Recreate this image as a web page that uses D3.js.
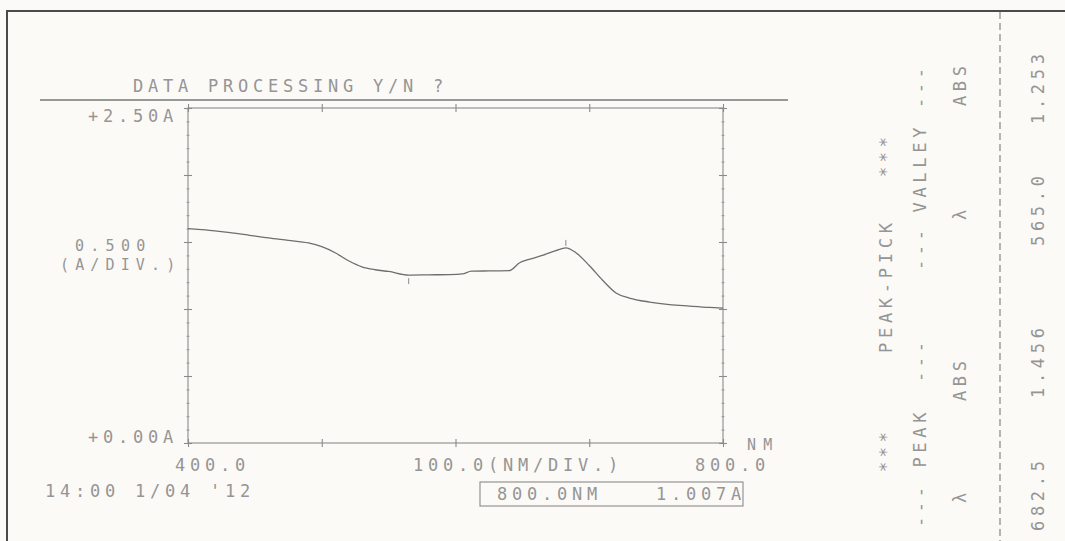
<!DOCTYPE html>
<html>
<head>
<meta charset="utf-8">
<script src="https://cdn.jsdelivr.net/npm/d3@7"></script>
<style>
  html, body { margin: 0; padding: 0; background: #fcfaf6; }
  svg { display: block; }
  .prn { font-family: "DejaVu Sans Mono", "Liberation Mono", monospace; font-size: 17px; fill: #959595; }
  .small { font-size: 15px; }
</style>
</head>
<body>
<svg id="chart" width="1065" height="541"></svg>
<script>
// Spectrum scan: wavelength (nm) and absorbance (A)
const wavelength = [400, 410, 420, 430, 445, 460, 475, 490, 500, 510, 520, 530, 540, 550, 565,
  580, 595, 605, 612, 625, 640, 648, 655, 665, 675, 682.5, 690, 700, 710, 720, 730, 745, 760, 775, 790, 800];
const absorbance = [1.600, 1.592, 1.583, 1.572, 1.552, 1.530, 1.512, 1.493, 1.465, 1.420, 1.360, 1.315, 1.293, 1.280, 1.253,
  1.255, 1.257, 1.262, 1.282, 1.284, 1.286, 1.345, 1.370, 1.400, 1.435, 1.456, 1.420, 1.325, 1.215, 1.120, 1.082, 1.052, 1.033, 1.022, 1.012, 1.007];

// Axis ranges and division ticks
const xDomain = [400, 800];
const yDomain = [0, 2.5];
const xTicks = [400, 500, 600, 700, 800];
const yTicks = [0, 0.5, 1.0, 1.5, 2.0, 2.5];
const yMinorTicks = d3.range(0, 2.5001, 0.1);

// Peak-pick results
const peakWl = 682.5, peakAbs = 1.456;
const valleyWl = 565.0, valleyAbs = 1.253;
const cursorWl = 800.0, cursorAbs = 1.007;

const svg = d3.select("#chart");
const ink = "#8a8a8a";
const PITCH = 15, GLYPH = 10.2;   // printer character pitch and glyph advance

const x = d3.scaleLinear().domain(xDomain).range([188, 723]);
const y = d3.scaleLinear().domain(yDomain).range([443, 108]);

// paper edge
svg.append("line").attr("x1", 7).attr("x2", 1065).attr("y1", 11).attr("y2", 11).attr("stroke", "#4a4a4a").attr("stroke-width", 2);
svg.append("line").attr("x1", 7).attr("x2", 7).attr("y1", 10).attr("y2", 541).attr("stroke", "#4a4a4a").attr("stroke-width", 2);

// header rule
svg.append("line").attr("x1", 40).attr("x2", 788).attr("y1", 100).attr("y2", 100).attr("stroke", "#777").attr("stroke-width", 1.3);

// plot frame
const frame = svg.append("g").attr("stroke", ink).attr("stroke-width", 1.1).attr("fill", "none");
frame.append("rect").attr("x", x(400)).attr("y", y(2.5)).attr("width", x(800) - x(400)).attr("height", y(0) - y(2.5));

// division ticks via axes
const axisStyle = g => {
  g.select(".domain").remove();
  g.selectAll("text").remove();
  g.selectAll("line").attr("stroke", ink).attr("stroke-width", 1.1);
};
svg.append("g").attr("transform", `translate(0,${y(0) + 4})`).call(d3.axisTop(x).tickValues(xTicks).tickSize(8)).call(axisStyle);
svg.append("g").attr("transform", `translate(0,${y(2.5) + 4})`).call(d3.axisTop(x).tickValues(xTicks).tickSize(8)).call(axisStyle);
svg.append("g").attr("transform", `translate(${x(400) + 4},0)`).call(d3.axisLeft(y).tickValues(yTicks).tickSize(8)).call(axisStyle);
svg.append("g").attr("transform", `translate(${x(800) + 4},0)`).call(d3.axisLeft(y).tickValues(yTicks).tickSize(8)).call(axisStyle);
// fine graduations along the absorbance edges
svg.append("g").attr("transform", `translate(${x(400) + 1.5},0)`).call(d3.axisLeft(y).tickValues(yMinorTicks).tickSize(3)).call(axisStyle)
  .selectAll("line").attr("stroke-width", 0.8);
svg.append("g").attr("transform", `translate(${x(800) + 1.5},0)`).call(d3.axisLeft(y).tickValues(yMinorTicks).tickSize(3)).call(axisStyle)
  .selectAll("line").attr("stroke-width", 0.8);

// spectrum trace
const pts = wavelength.map((w, i) => [w, absorbance[i]]);
svg.append("path").datum(pts)
  .attr("fill", "none").attr("stroke", "#6e6e6e").attr("stroke-width", 1.3)
  .attr("d", d3.line().x(d => x(d[0])).y(d => y(d[1])).curve(d3.curveMonotoneX));

// peak / valley markers
svg.append("line").attr("x1", x(peakWl)).attr("x2", x(peakWl)).attr("y1", y(peakAbs) - 8).attr("y2", y(peakAbs) - 2).attr("stroke", ink);
svg.append("line").attr("x1", x(valleyWl)).attr("x2", x(valleyWl)).attr("y1", y(valleyAbs) + 3).attr("y2", y(valleyAbs) + 9).attr("stroke", ink);

// printed text on a fixed character pitch
const span = s => (s.length - 1) * PITCH + GLYPH;
const txt = (s, x0, ty) => svg.append("text").attr("class", "prn")
  .attr("x", x0).attr("y", ty)
  .attr("textLength", span(s)).attr("lengthAdjust", "spacing")
  .text(s);
txt("DATA PROCESSING Y/N ?", 133, 92);
txt(`+${yDomain[1].toFixed(2)}A`, 88, 122);
txt("0.500", 75, 251).classed("small", true);
txt("(A/DIV.)", 60, 270).classed("small", true);
txt(`+${yDomain[0].toFixed(2)}A`, 88, 443);
txt(xDomain[0].toFixed(1), 175, 471);
txt("100.0(NM/DIV.)", 413, 471);
txt(xDomain[1].toFixed(1), 695, 471);
txt("NM", 747, 450).classed("small", true);
txt("14:00", 45, 497);
txt("1/04", 135, 497);
txt("'12", 210, 497);

svg.append("rect").attr("x", 480).attr("y", 482).attr("width", 263).attr("height", 24)
  .attr("fill", "none").attr("stroke", ink).attr("stroke-width", 1.1);
txt(`${cursorWl.toFixed(1)}NM`, 497, 500);
txt(`${cursorAbs.toFixed(3)}A`, 656, 500);

// peak-pick table, printed sideways; placed by centre along the column
const vtxt = (s, cx, cy) => svg.append("text").attr("class", "prn")
  .attr("transform", `translate(${cx + 6},${cy + span(s) / 2}) rotate(-90)`)
  .attr("textLength", span(s)).attr("lengthAdjust", "spacing")
  .text(s);
vtxt("***", 886, 157);
vtxt("PEAK-PICK", 886, 288);
vtxt("***", 886, 452);
vtxt("---", 920, 507);
vtxt("PEAK", 920, 440);
vtxt("---", 920, 362);
vtxt("---", 920, 250);
vtxt("VALLEY", 920, 170);
vtxt("---", 920, 88);
vtxt("λ", 960, 498);
vtxt("ABS", 960, 381);
vtxt("λ", 960, 215);
vtxt("ABS", 960, 86);
vtxt(peakWl.toFixed(1), 1038, 496);
vtxt(peakAbs.toFixed(3), 1038, 363);
vtxt(valleyWl.toFixed(1), 1038, 211);
vtxt(valleyAbs.toFixed(3), 1038, 89);

// column rule
svg.append("line").attr("x1", 1000).attr("x2", 1000).attr("y1", 12).attr("y2", 541)
  .attr("stroke", "#7a7a7a").attr("stroke-width", 1.1).attr("stroke-dasharray", "7,4");
</script>
</body>
</html>
